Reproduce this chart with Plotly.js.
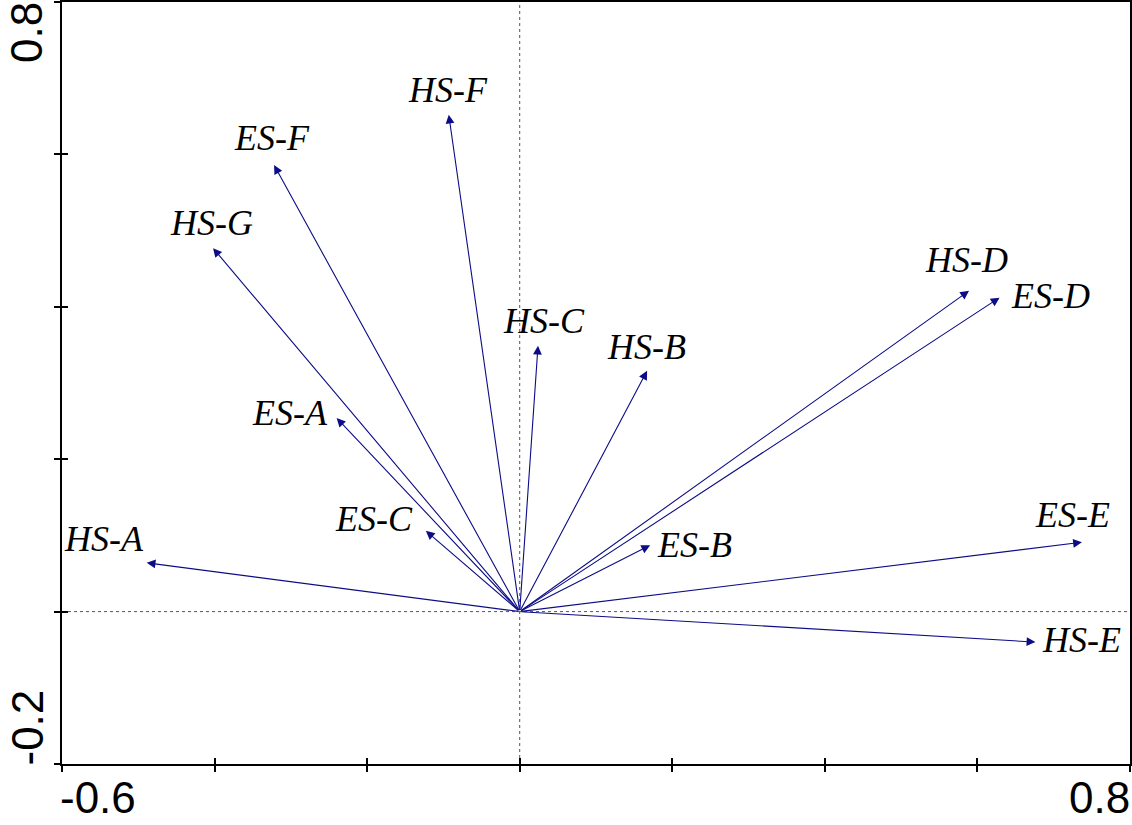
<!DOCTYPE html>
<html>
<head>
<meta charset="utf-8">
<script src="https://cdn.plot.ly/plotly-3.0.1.min.js"></script>
<style>html,body{margin:0;padding:0;background:#fff;}#chart{width:1132px;height:825px;}</style>
</head>
<body>
<div id="chart"></div>
<script>
// Variable names (arrow labels)
var names = ["HS-A","ES-C","ES-A","HS-G","ES-F","HS-F","HS-C","HS-B","ES-B","HS-D","ES-D","ES-E","HS-E"];
// Arrow tip coordinates (axis 1, axis 2)
var axis1 = [-0.489,-0.123,-0.240,-0.402,-0.322,-0.093,0.024,0.167,0.171,0.589,0.629,0.737,0.676];
var axis2 = [0.064,0.106,0.254,0.477,0.586,0.652,0.349,0.316,0.087,0.421,0.412,0.091,-0.040];
// Tick values and labels
var xTickVals = [-0.6,-0.4,-0.2,0,0.2,0.4,0.6,0.8];
var yTickVals = [-0.2,0,0.2,0.4,0.6,0.8];
var xRange = [-0.6,0.8];
var yRange = [-0.2,0.8];

// label offsets in pixels (style only)
var labDx = [-43,-52,-47,-2,-2,-1,6,-1,44,-3,51,-9,46];
var labDy = [-22,-10,-3,-23,-25,-23,-23,-22,2,-29,0,-25,0];

var navy = "#0c0c86";
var ann = [];
for (var i = 0; i < names.length; i++) {
  ann.push({
    x: axis1[i], y: axis2[i], xref: "x", yref: "y",
    ax: 0, ay: 0, axref: "x", ayref: "y",
    showarrow: true, arrowhead: 2, arrowsize: 1.6, arrowwidth: 1.1,
    arrowcolor: navy, standoff: 0, startstandoff: 0, text: ""
  });
  ann.push({
    x: axis1[i], y: axis2[i], xref: "x", yref: "y",
    text: "<i>" + names[i] + "</i>", showarrow: false,
    xanchor: "center", yanchor: "middle",
    xshift: labDx[i], yshift: -labDy[i] + 2,
    font: {family: "Liberation Serif, Times New Roman, serif", size: 36, color: "#000"}
  });
}
// axis end labels
var tickFont = {family: "Liberation Sans, Arial, sans-serif", size: 44, color: "#000"};
ann.push({x: xRange[0], y: 0, xref: "x", yref: "paper", text: String(xRange[0]), showarrow: false,
  xanchor: "left", yanchor: "top", yshift: -7, xshift: -4, font: tickFont});
ann.push({x: xRange[1], y: 0, xref: "x", yref: "paper", text: String(xRange[1]), showarrow: false,
  xanchor: "right", yanchor: "top", yshift: -7, xshift: 2, font: tickFont});
ann.push({x: 0, y: yRange[1], xref: "paper", yref: "y", text: String(yRange[1]), showarrow: false,
  textangle: -90, xanchor: "right", yanchor: "top", xshift: -9, yshift: 2, font: tickFont});
ann.push({x: 0, y: yRange[0], xref: "paper", yref: "y", text: String(yRange[0]), showarrow: false,
  textangle: -90, xanchor: "right", yanchor: "bottom", xshift: -9, yshift: -4, font: tickFont});

var traces = [
  {x: [], y: [], type: "scatter", mode: "markers", xaxis: "x", yaxis: "y", showlegend: false, hoverinfo: "skip"},
  {x: [], y: [], type: "scatter", mode: "markers", xaxis: "x2", yaxis: "y2", showlegend: false, hoverinfo: "skip"}
];

var baseAx = {showgrid: false, zeroline: false, showticklabels: false, fixedrange: true};
var layout = {
  width: 1132, height: 825,
  margin: {l: 62, r: 2, t: 2, b: 61, pad: 0},
  paper_bgcolor: "#fff", plot_bgcolor: "#fff",
  showlegend: false,
  xaxis: Object.assign({}, baseAx, {range: xRange, tickvals: xTickVals, ticks: "outside", ticklen: 6, tickwidth: 2, tickcolor: "#000",
    showline: true, linewidth: 2, linecolor: "#000", mirror: true}),
  yaxis: Object.assign({}, baseAx, {range: yRange, tickvals: yTickVals, ticks: "outside", ticklen: 6, tickwidth: 2, tickcolor: "#000",
    showline: true, linewidth: 2, linecolor: "#000", mirror: true}),
  xaxis2: Object.assign({}, baseAx, {range: xRange, overlaying: "x", side: "bottom", tickvals: xTickVals, ticks: "inside", ticklen: 6, tickwidth: 2, tickcolor: "#000", showline: false}),
  yaxis2: Object.assign({}, baseAx, {range: yRange, overlaying: "y", side: "left", tickvals: yTickVals, ticks: "inside", ticklen: 6, tickwidth: 2, tickcolor: "#000", showline: false}),
  shapes: [
    {type: "line", xref: "x", yref: "paper", x0: 0, x1: 0, y0: 0, y1: 1, layer: "below", line: {color: "#555", width: 1, dash: "3px,3px"}},
    {type: "line", xref: "paper", yref: "y", x0: 0, x1: 1, y0: 0, y1: 0, layer: "below", line: {color: "#555", width: 1, dash: "3px,3px"}}
  ],
  annotations: ann
};
Plotly.newPlot("chart", traces, layout, {staticPlot: true, displayModeBar: false});
</script>
</body>
</html>
